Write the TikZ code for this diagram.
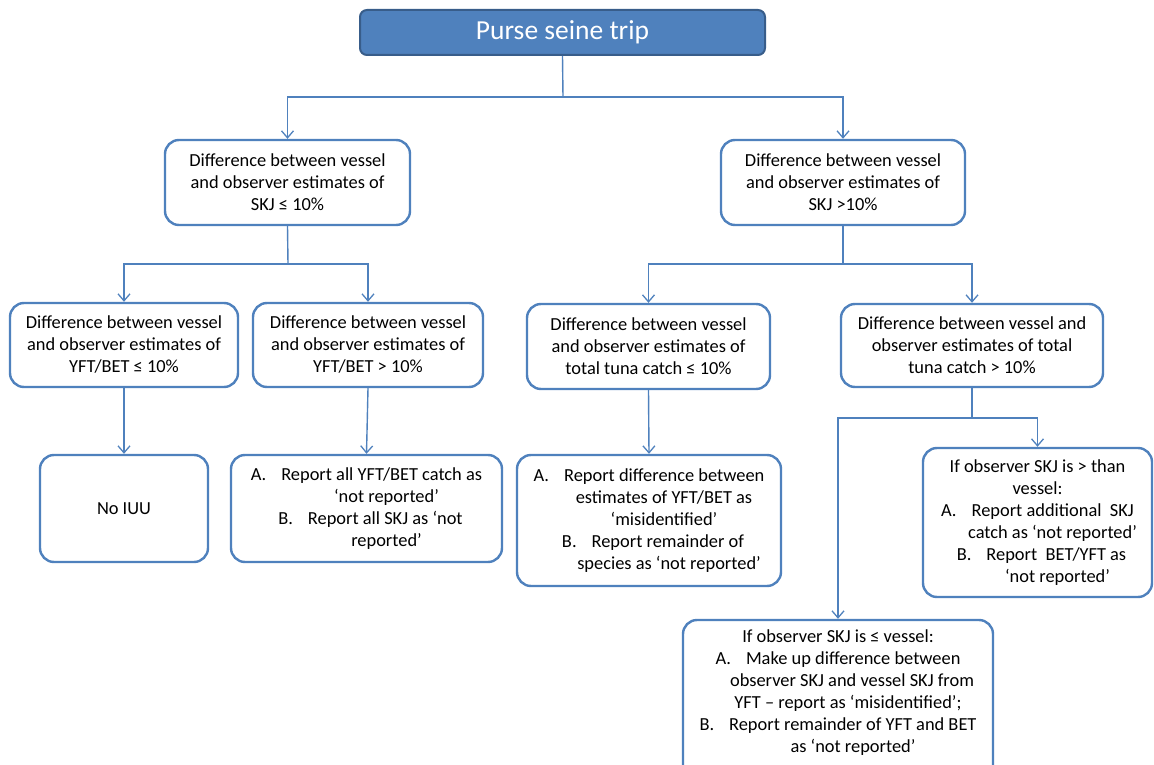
\documentclass[tikz,border=0pt]{standalone}
\usepackage{fontspec}
\setmainfont{Carlito}
\usetikzlibrary{arrows.meta}
\definecolor{boxblue}{HTML}{4F81BD}
\definecolor{darkblue}{HTML}{385D8A}
\tikzset{
  box/.style={draw=boxblue, line width=2.4pt, rounded corners=14pt, fill=white,
    align=center, inner sep=2pt, font=\fontsize{18.4}{22}\selectfont, text=black},
  titlebox/.style={draw=darkblue, line width=2pt, rounded corners=7pt, fill=boxblue,
    text=white, font=\fontsize{27.5}{32}\selectfont},
  conn/.style={draw=boxblue, line width=1.4pt},
  arr/.style={conn, -{Straight Barb[length=7pt,width=12pt,line width=1.3pt]}},
}
\newcommand{\itm}[1]{#1\hspace{15pt}}
\begin{document}
\begin{tikzpicture}[x=1pt,y=-1pt]
\useasboundingbox (0,0) rectangle (1154,765);
\node[titlebox, minimum width=405pt, minimum height=45pt] (top) at (562.5,32.5) {Purse seine trip};

\node[box, minimum width=245pt, minimum height=85pt] (L1) at (287.5,182.5)
  {Difference between vessel\\and observer estimates of\\SKJ ≤ 10\%};
\node[box, minimum width=244pt, minimum height=85pt] (R1) at (843,182.5)
  {Difference between vessel\\and observer estimates of\\SKJ >10\%};

\node[box, minimum width=228pt, minimum height=84pt] (LL2) at (124,345)
  {Difference between vessel\\and observer estimates of\\YFT/BET ≤ 10\%};
\node[box, minimum width=230pt, minimum height=84pt] (LR2) at (368,345)
  {Difference between vessel\\and observer estimates of\\YFT/BET > 10\%};
\node[box, minimum width=243pt, minimum height=85pt] (RL2) at (648.5,346.5)
  {Difference between vessel\\and observer estimates of\\total tuna catch ≤ 10\%};
\node[box, minimum width=262pt, minimum height=83pt] (RR2) at (972,345.5)
  {Difference between vessel and\\observer estimates of total\\tuna catch > 10\%};

\node[box, minimum width=168pt, minimum height=107pt] (NI) at (124,508.5) {No IUU};
\node[box, minimum width=271pt, minimum height=107pt] (LR3) at (366.5,508.5)
  {\itm{A.}Report all YFT/BET catch as\\\hspace*{40pt}‘not reported’\\\hspace*{8pt}\itm{B.}Report all SKJ as ‘not\\\hspace*{40pt}reported’};
\node[box, minimum width=264pt, minimum height=131pt] (RL3) at (649,520.5)
  {\itm{A.}Report difference between\\\hspace*{30pt}estimates of YFT/BET as\\\hspace*{30pt}‘misidentified’\\\hspace*{8pt}\itm{B.}Report remainder of\\\hspace*{40pt}species as ‘not reported’};
\node[box, minimum width=229pt, minimum height=149pt] (RR3) at (1037.5,522.5)
  {If observer SKJ is > than\\vessel:\\\itm{A.}Report additional\ \ SKJ\\\hspace*{30pt}catch as ‘not reported’\\\hspace*{8pt}\itm{B.}Report\ \ BET/YFT as\\\hspace*{40pt}‘not reported’};
\node[box, minimum width=310pt, minimum height=160pt] (BOT) at (838,700)
  {If observer SKJ is ≤ vessel:\\\itm{A.}Make up difference between\\\hspace*{28pt}observer SKJ and vessel SKJ from\\\hspace*{20pt}YFT – report as ‘misidentified’;\\\itm{B.}Report remainder of YFT and BET\\\hspace*{30pt}as ‘not reported’\vspace*{14pt}};

\coordinate (j0) at (563,97);
\coordinate (j1) at (288,264);
\coordinate (j2) at (843,264);
\coordinate (j3) at (972,418);
\draw[conn] (top.south) -- (j0);
\draw[arr] (j0) -| (L1.north);
\draw[arr] (j0) -| (R1.north);

\draw[conn] (L1.south) -- (j1);
\draw[arr] (j1) -| (LL2.north);
\draw[arr] (j1) -| (LR2.north);
\draw[conn] (R1.south) -- (j2);
\draw[arr] (j2) -| (RL2.north);
\draw[arr] (j2) -| (RR2.north);

\draw[arr] (LL2.south) -- (NI.north);
\draw[arr] (LR2.south) -- (LR3.north);
\draw[arr] (RL2.south) -- (RL3.north);
\draw[conn] (RR2.south) -- (j3);
\draw[arr] (j3) -| (RR3.north);
\draw[arr] (j3) -| (BOT.north);
\end{tikzpicture}
\end{document}
